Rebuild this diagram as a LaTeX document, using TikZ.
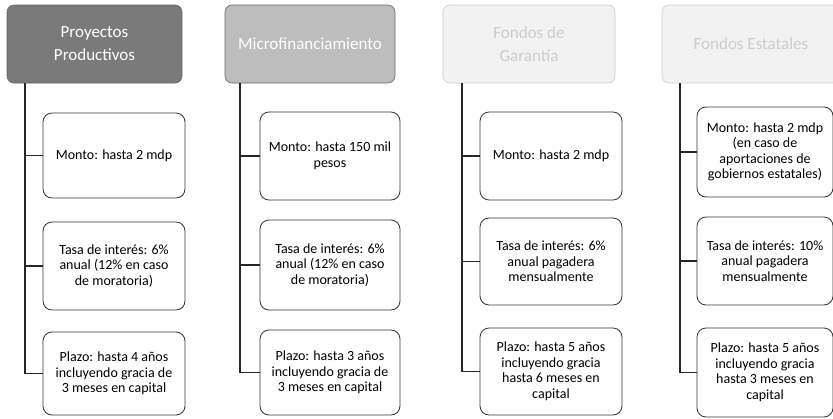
\documentclass[tikz,border=0pt]{standalone}
\usepackage{fontspec}
\setmainfont{Carlito}
\begin{document}
\begin{tikzpicture}[x=1pt,y=-1pt,
  hdr/.style={rounded corners=7pt,draw=black!60,line width=0.6pt,align=center,inner sep=0pt,font=\fontsize{17}{23}\selectfont},
  item/.style={rounded corners=9pt,draw=black!80,line width=0.8pt,align=center,inner sep=0pt,text=black,font=\fontsize{14}{15.5}\selectfont},
  conn/.style={draw=black!85,line width=1.1pt}]
\useasboundingbox (0,0) rectangle (833,418);
% column 1
\node[hdr,fill=black!52,text=white,minimum width=175pt,minimum height=78pt] (h1) at (94.5,44) {Proyectos\\Productivos};
\node[item,minimum width=142pt,minimum height=85pt] (b11) at (114,155.5) {Monto: hasta 2 mdp};
\node[item,minimum width=142pt,minimum height=88pt] (b12) at (114,266) {Tasa de interés: 6\%\\anual (12\% en caso\\de moratoria)};
\node[item,minimum width=142pt,minimum height=83pt] (b13) at (114,373.5) {Plazo: hasta 4 años\\incluyendo gracia de\\3 meses en capital};
\coordinate (v1) at (25,83);
\draw[conn] (v1) |- (b13.west);
\draw[conn] (v1 |- b11.west) -- (b11.west);
\draw[conn] (v1 |- b12.west) -- (b12.west);
% column 2
\node[hdr,fill=black!26,text=white,minimum width=170pt,minimum height=78pt] (h2) at (310,44) {Microfinanciamiento};
\node[item,minimum width=140pt,minimum height=88pt] (b21) at (330,156) {Monto: hasta 150 mil\\pesos};
\node[item,minimum width=140pt,minimum height=90pt] (b22) at (330,265) {Tasa de interés: 6\%\\anual (12\% en caso\\de moratoria)};
\node[item,minimum width=140pt,minimum height=85pt] (b23) at (330,372.5) {Plazo: hasta 3 años\\incluyendo gracia de\\3 meses en capital};
\coordinate (v2) at (240,83);
\draw[conn] (v2) |- (b23.west);
\draw[conn] (v2 |- b21.west) -- (b21.west);
\draw[conn] (v2 |- b22.west) -- (b22.west);
% column 3
\node[hdr,fill=black!5,draw=black!20,text=black!20,minimum width=172pt,minimum height=78pt] (h3) at (529,44) {Fondos de\\Garantía};
\node[item,minimum width=142pt,minimum height=88pt] (b31) at (551,156) {Monto: hasta 2 mdp};
\node[item,minimum width=142pt,minimum height=87pt] (b32) at (551,261.5) {Tasa de interés: 6\%\\anual pagadera\\mensualmente};
\node[item,minimum width=142pt,minimum height=87pt] (b33) at (551,371.5) {Plazo: hasta 5 años\\incluyendo gracia\\hasta 6 meses en\\capital};
\coordinate (v3) at (462,83);
\draw[conn] (v3) |- (b33.west);
\draw[conn] (v3 |- b31.west) -- (b31.west);
\draw[conn] (v3 |- b32.west) -- (b32.west);
% column 4
\node[hdr,fill=black!5,draw=black!20,text=black!20,minimum width=178pt,minimum height=78pt] (h4) at (751,44) {Fondos Estatales};
\node[item,minimum width=136pt,minimum height=90pt] (b41) at (765,152) {Monto: hasta 2 mdp\\(en caso de\\aportaciones de\\gobiernos estatales)};
\node[item,minimum width=136pt,minimum height=88pt] (b42) at (765,261) {Tasa de interés: 10\%\\anual pagadera\\mensualmente};
\node[item,minimum width=136pt,minimum height=89pt] (b43) at (765,372.5) {Plazo: hasta 5 años\\incluyendo gracia\\hasta 3 meses en\\capital};
\coordinate (v4) at (680,83);
\draw[conn] (v4) |- (b43.west);
\draw[conn] (v4 |- b41.west) -- (b41.west);
\draw[conn] (v4 |- b42.west) -- (b42.west);
\end{tikzpicture}
\end{document}
